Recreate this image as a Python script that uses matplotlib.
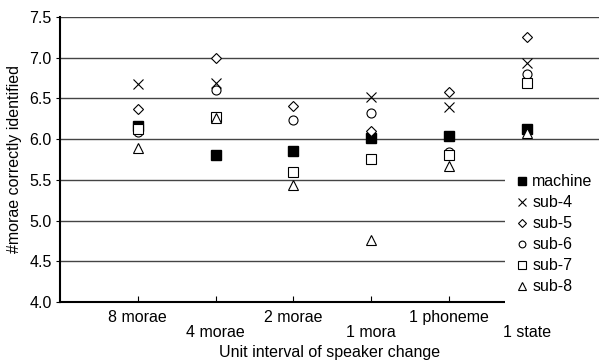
import numpy as np
import matplotlib
matplotlib.use("Agg")
import matplotlib.pyplot as plt

plt.rcParams['font.family'] = ['Liberation Sans', 'DejaVu Sans']

categories = ["8 morae", "4 morae", "2 morae", "1 mora", "1 phoneme", "1 state"]
machine = [6.16, 5.80, 5.85, 6.01, 6.04, 6.12]
sub4 = [6.68, 6.69, np.nan, 6.52, 6.40, 6.94]
sub5 = [6.37, 7.00, 6.41, 6.10, 6.58, 7.25]
sub6 = [6.09, 6.60, 6.24, 6.32, 5.84, 6.80]
sub7 = [6.12, 6.27, 5.60, 5.76, 5.80, 6.69]
sub8 = [5.89, 6.26, 5.44, 4.76, 5.67, 6.08]
series_names = ["machine", "sub-4", "sub-5", "sub-6", "sub-7", "sub-8"]
y_ticks = [4.0, 4.5, 5.0, 5.5, 6.0, 6.5, 7.0, 7.5]

fig = plt.figure(figsize=(5.99, 3.6), dpi=100)
ax = fig.add_axes([0.1002, 0.161, 0.8998, 0.792])

x = np.arange(1, len(categories) + 1)
styles = [
    dict(marker='s', color='black', markerfacecolor='black', markersize=7),
    dict(marker='x', color='black', markersize=7, markeredgewidth=0.8),
    dict(marker='D', color='black', markerfacecolor='white', markersize=5.5, markeredgewidth=0.8),
    dict(marker='o', color='black', markerfacecolor='white', markersize=6.5, markeredgewidth=0.8),
    dict(marker='s', color='black', markerfacecolor='white', markersize=7, markeredgewidth=0.8),
    dict(marker='^', color='black', markerfacecolor='white', markersize=7.5, markeredgewidth=0.8),
]
data = [machine, sub4, sub5, sub6, sub7, sub8]
for vals, name, st in zip(data, series_names, styles):
    ax.plot(x, vals, linestyle='none', label=name, zorder=3, **st)

ax.set_xlim(0, 6.93)
ax.set_ylim(4.0, 7.5)
ax.set_yticks(y_ticks)
ax.set_yticklabels([f"{v:.1f}" for v in y_ticks], fontsize=11.5)
ax.yaxis.grid(True, color='#444444', linewidth=1.0)
ax.set_axisbelow(True)

ax.set_xticks(x)
labels = []
for i, c in enumerate(categories):
    labels.append(c if i % 2 == 0 else "\n" + c)
ax.set_xticklabels(labels, fontsize=11.5, linespacing=1.0)
ax.tick_params(axis='x', direction='in', length=4, pad=5.5)
ax.tick_params(axis='y', direction='out', length=3, pad=3)

for s in ['top', 'right']:
    ax.spines[s].set_visible(False)
ax.spines['left'].set_linewidth(1.5)
ax.spines['bottom'].set_linewidth(1.5)

ax.set_ylabel("#morae correctly identified", fontsize=11.5, labelpad=5)
ax.set_xlabel("Unit interval of speaker change", fontsize=11.5, labelpad=4)

leg = ax.legend(loc='upper left', bbox_to_anchor=(0.837, 0.465), frameon=True,
                fontsize=11.5, handletextpad=0.22, handlelength=0.8,
                labelspacing=0.375, borderpad=0.3, borderaxespad=0,
                markerscale=0.75)
leg.get_frame().set_facecolor('white')
leg.get_frame().set_edgecolor('none')
leg.get_frame().set_alpha(1)
leg.get_frame().set_boxstyle('square', pad=0.4)

fig.savefig("out.png", dpi=100)
